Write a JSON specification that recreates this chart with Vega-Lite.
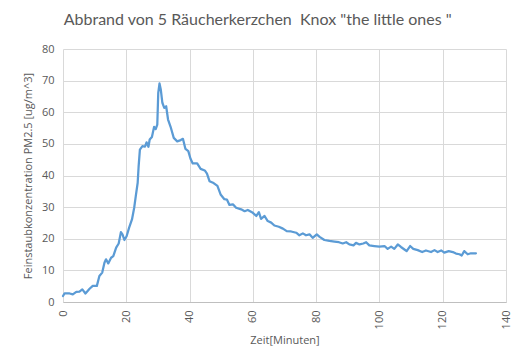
{
  "$schema": "https://vega.github.io/schema/vega-lite/v6.json",
  "width": 443,
  "height": 253,
  "autosize": {"type": "none"},
  "padding": {"left": 63, "top": 49, "right": 17, "bottom": 46},
  "background": "white",
  "title": {
    "text": "Abbrand von 5 Räucherkerzchen \u00a0Knox \"the little ones \"",
    "font": "Lato",
    "fontSize": 16,
    "fontWeight": "normal",
    "color": "#595959",
    "anchor": "middle",
    "frame": "bounds",
    "dx": -9,
    "offset": 15
  },
  "data": {
    "values": [
      {"t": 0, "pm": 1.9}, {"t": 0.5, "pm": 2.7}, {"t": 2.1, "pm": 2.7}, {"t": 3.1, "pm": 2.4},
      {"t": 4.2, "pm": 3.2}, {"t": 5.2, "pm": 3.3}, {"t": 6.1, "pm": 4.0}, {"t": 7.1, "pm": 2.7},
      {"t": 8.4, "pm": 4.2}, {"t": 9.4, "pm": 5.1}, {"t": 10.7, "pm": 5.1}, {"t": 11.5, "pm": 8.2},
      {"t": 12.4, "pm": 9.3}, {"t": 13.1, "pm": 12.4}, {"t": 13.6, "pm": 13.5}, {"t": 14.3, "pm": 12.2},
      {"t": 15.2, "pm": 14.0}, {"t": 15.9, "pm": 14.5}, {"t": 16.8, "pm": 17.2}, {"t": 17.6, "pm": 18.5},
      {"t": 18.3, "pm": 22.1}, {"t": 18.8, "pm": 21.4}, {"t": 19.4, "pm": 19.6}, {"t": 20.1, "pm": 20.8},
      {"t": 20.9, "pm": 23.5}, {"t": 21.8, "pm": 26.1}, {"t": 22.5, "pm": 29.8}, {"t": 23.0, "pm": 33.5},
      {"t": 23.6, "pm": 37.7}, {"t": 23.9, "pm": 42.9}, {"t": 24.3, "pm": 48.2}, {"t": 25.1, "pm": 49.3},
      {"t": 25.9, "pm": 49.1}, {"t": 26.4, "pm": 50.5}, {"t": 27.0, "pm": 49.1}, {"t": 27.4, "pm": 51.4},
      {"t": 28.1, "pm": 52.2}, {"t": 28.8, "pm": 55.4}, {"t": 29.3, "pm": 54.7}, {"t": 29.8, "pm": 56.1},
      {"t": 30.1, "pm": 66.1}, {"t": 30.5, "pm": 69.1}, {"t": 30.9, "pm": 67.2}, {"t": 31.4, "pm": 63.0},
      {"t": 32.0, "pm": 61.4}, {"t": 32.6, "pm": 61.9}, {"t": 33.2, "pm": 57.7}, {"t": 34.0, "pm": 55.4},
      {"t": 35.0, "pm": 51.9}, {"t": 36.1, "pm": 50.8}, {"t": 37.2, "pm": 51.2}, {"t": 37.9, "pm": 51.6},
      {"t": 38.7, "pm": 48.4}, {"t": 39.6, "pm": 47.7}, {"t": 40.3, "pm": 45.3}, {"t": 41.0, "pm": 43.8},
      {"t": 42.4, "pm": 43.8}, {"t": 43.5, "pm": 42.1}, {"t": 44.8, "pm": 41.6}, {"t": 45.5, "pm": 40.6},
      {"t": 46.3, "pm": 38.2}, {"t": 47.6, "pm": 37.6}, {"t": 48.8, "pm": 36.7}, {"t": 49.8, "pm": 34.0},
      {"t": 51.0, "pm": 32.5}, {"t": 51.8, "pm": 32.4}, {"t": 52.6, "pm": 30.7}, {"t": 53.7, "pm": 30.9},
      {"t": 54.7, "pm": 29.8}, {"t": 56.3, "pm": 29.3}, {"t": 57.4, "pm": 28.7}, {"t": 58.4, "pm": 29.1},
      {"t": 60.0, "pm": 28.2}, {"t": 61.1, "pm": 27.2}, {"t": 61.9, "pm": 28.4}, {"t": 62.6, "pm": 26.3},
      {"t": 63.7, "pm": 27.2}, {"t": 64.7, "pm": 25.6}, {"t": 65.8, "pm": 25.1}, {"t": 66.8, "pm": 24.2},
      {"t": 68.2, "pm": 23.8}, {"t": 69.5, "pm": 23.2}, {"t": 70.7, "pm": 22.4}, {"t": 72.1, "pm": 22.3},
      {"t": 73.7, "pm": 21.9}, {"t": 74.7, "pm": 21.1}, {"t": 75.8, "pm": 21.7}, {"t": 76.8, "pm": 21.1},
      {"t": 77.9, "pm": 21.4}, {"t": 78.9, "pm": 20.3}, {"t": 80.2, "pm": 21.4}, {"t": 81.1, "pm": 20.6},
      {"t": 82.6, "pm": 19.6}, {"t": 84.2, "pm": 19.3}, {"t": 85.8, "pm": 19.1}, {"t": 87.2, "pm": 18.9},
      {"t": 88.4, "pm": 18.5}, {"t": 89.5, "pm": 18.9}, {"t": 90.5, "pm": 18.2}, {"t": 91.8, "pm": 17.9},
      {"t": 92.6, "pm": 18.7}, {"t": 93.7, "pm": 18.2}, {"t": 94.9, "pm": 18.5}, {"t": 95.8, "pm": 18.9},
      {"t": 96.8, "pm": 17.9}, {"t": 98.4, "pm": 17.7}, {"t": 100.0, "pm": 17.5}, {"t": 101.6, "pm": 17.7},
      {"t": 102.6, "pm": 16.8}, {"t": 103.7, "pm": 17.5}, {"t": 104.7, "pm": 16.8}, {"t": 105.8, "pm": 18.2},
      {"t": 106.8, "pm": 17.4}, {"t": 107.9, "pm": 16.6}, {"t": 108.6, "pm": 16.1}, {"t": 109.7, "pm": 17.7},
      {"t": 110.7, "pm": 16.8}, {"t": 112.1, "pm": 16.4}, {"t": 113.5, "pm": 15.8}, {"t": 114.7, "pm": 16.3},
      {"t": 116.3, "pm": 15.8}, {"t": 117.4, "pm": 16.4}, {"t": 118.4, "pm": 15.8}, {"t": 119.5, "pm": 16.3},
      {"t": 120.5, "pm": 15.6}, {"t": 121.9, "pm": 16.1}, {"t": 123.2, "pm": 15.8}, {"t": 124.2, "pm": 15.3},
      {"t": 125.3, "pm": 15.1}, {"t": 126.0, "pm": 14.7}, {"t": 126.8, "pm": 16.1}, {"t": 127.9, "pm": 15.1},
      {"t": 128.9, "pm": 15.4}, {"t": 130.5, "pm": 15.4}
    ]
  },
  "mark": {"type": "line", "color": "#5b9bd5", "strokeWidth": 2.25, "strokeJoin": "round", "strokeCap": "round"},
  "encoding": {
    "x": {
      "field": "t", "type": "quantitative",
      "scale": {"domain": [0, 140], "nice": false},
      "axis": {
        "title": "Zeit[Minuten]",
        "values": [0, 20, 40, 60, 80, 100, 120, 140],
        "labelAngle": -90,
        "labelAlign": "right",
        "labelBaseline": "middle",
        "labelPadding": 8,
        "ticks": false,
        "domainColor": "#bfbfbf",
        "gridColor": "#d9d9d9",
        "labelColor": "#595959",
        "labelFont": "Open Sans",
        "labelFontSize": 11,
        "titleFont": "Open Sans",
        "titleFontSize": 11,
        "titleFontWeight": "normal",
        "titleColor": "#595959",
        "titlePadding": 6
      }
    },
    "y": {
      "field": "pm", "type": "quantitative",
      "scale": {"domain": [0, 80], "nice": false},
      "axis": {
        "title": "Feinstaubkonzentration PM2.5 [ug/m^3]",
        "values": [0, 10, 20, 30, 40, 50, 60, 70, 80],
        "ticks": false,
        "domain": false,
        "gridColor": "#d9d9d9",
        "labelColor": "#595959",
        "labelFont": "Open Sans",
        "labelFontSize": 11,
        "labelPadding": 9,
        "titleFont": "Open Sans",
        "titleFontSize": 11,
        "titleFontWeight": "normal",
        "titleColor": "#595959",
        "titlePadding": 8
      }
    }
  },
  "config": {
    "view": {"stroke": null}
  }
}
